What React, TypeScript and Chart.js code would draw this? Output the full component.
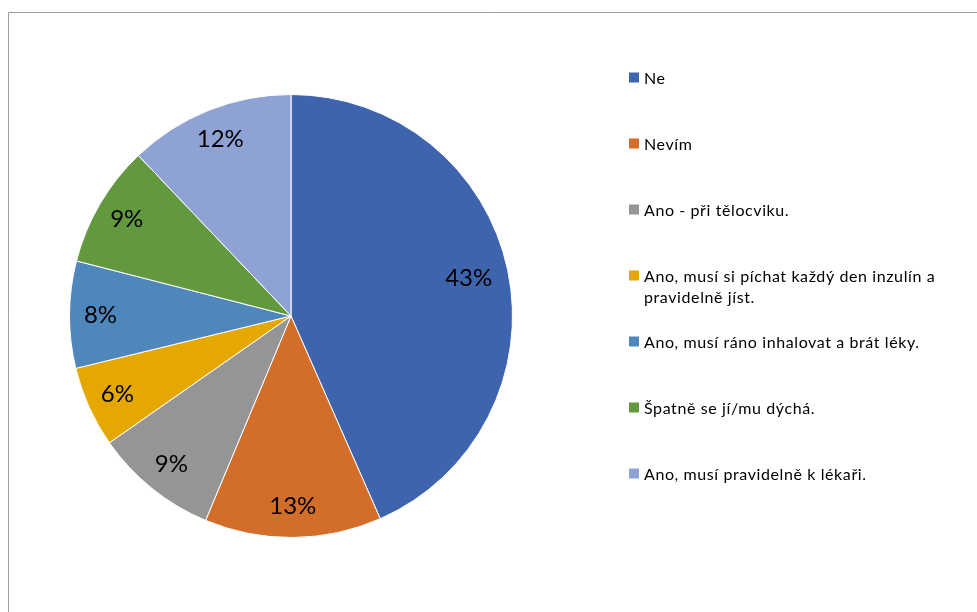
import React, { useEffect, useRef } from "react";
import { Chart, registerables } from "chart.js";

Chart.register(...registerables);

const categories = [
  "Ne",
  "Nevím",
  "Ano - při tělocviku.",
  "Ano, musí si píchat každý den inzulín a pravidelně jíst.",
  "Ano, musí ráno inhalovat a brát léky.",
  "Špatně se jí/mu dýchá.",
  "Ano, musí pravidelně k lékaři.",
];
const values = [43.4, 12.9, 9.0, 5.9, 7.8, 8.9, 12.1];
const colors = ["#3E64AE", "#D26E2A", "#959595", "#E5A800", "#4F87BC", "#62993E", "#8FA2D4"];

const FONT = "Lato, 'Open Sans', sans-serif";

const framePlugin = {
  id: "frame",
  beforeDraw(chart: any) {
    const ctx = chart.ctx;
    ctx.save();
    ctx.fillStyle = "#ffffff";
    ctx.fillRect(0, 0, chart.width, chart.height);
    ctx.strokeStyle = "#9e9e9e";
    ctx.lineWidth = 1;
    ctx.beginPath();
    ctx.moveTo(8.5, chart.height + 5);
    ctx.lineTo(8.5, 12.5);
    ctx.lineTo(chart.width + 5, 12.5);
    ctx.stroke();
    ctx.restore();
  },
};

const labelPlugin = {
  id: "pieLabels",
  afterDatasetsDraw(chart: any) {
    const ctx = chart.ctx;
    const meta = chart.getDatasetMeta(0);
    const data = chart.data.datasets[0].data as number[];
    const total = data.reduce((a, b) => a + b, 0);
    ctx.save();
    ctx.font = `24px ${FONT}`;
    ctx.fillStyle = "#000000";
    ctx.textAlign = "center";
    ctx.textBaseline = "middle";
    meta.data.forEach((arc: any, i: number) => {
      const p = arc.getProps(["x", "y", "startAngle", "endAngle", "outerRadius"], true);
      const mid = (p.startAngle + p.endAngle) / 2;
      const r = p.outerRadius * (i === 0 ? 0.82 : 0.86);
      const x = p.x + Math.cos(mid) * r;
      const y = p.y + Math.sin(mid) * r;
      ctx.fillText(Math.round((data[i] / total) * 100) + "%", x, y);
    });
    ctx.restore();
  },
};

const legendPlugin = {
  id: "customLegend",
  afterDraw(chart: any) {
    const ctx = chart.ctx;
    const startY = 77.5;
    const step = 66;
    const boxX = 629;
    const textX = 644;
    const maxW = 305;
    const lineH = 21.5;
    ctx.save();
    ctx.font = `16px ${FONT}`;
    try {
      (ctx as any).letterSpacing = "0.6px";
    } catch (e) {}
    ctx.textBaseline = "middle";
    ctx.textAlign = "left";
    categories.forEach((label, i) => {
      const y = startY + i * step;
      ctx.fillStyle = colors[i];
      ctx.fillRect(boxX, y - 5, 10, 10);
      ctx.fillStyle = "#000000";
      const words = label.split(" ");
      const lines: string[] = [];
      let cur = "";
      words.forEach((w) => {
        const t = cur ? cur + " " + w : w;
        if (ctx.measureText(t).width > maxW && cur) {
          lines.push(cur);
          cur = w;
        } else cur = t;
      });
      if (cur) lines.push(cur);
      lines.forEach((ln, k) => ctx.fillText(ln, textX, y + 1 + k * lineH));
    });
    ctx.restore();
  },
};

export default function App() {
  const ref = useRef<HTMLCanvasElement>(null);
  useEffect(() => {
    document.body.style.margin = "0";
    const chart = new Chart(ref.current!, {
      type: "pie",
      data: {
        labels: categories,
        datasets: [
          {
            data: values,
            backgroundColor: colors,
            borderColor: "#ffffff",
            borderWidth: 1,
          },
        ],
      },
      options: {
        responsive: false,
        animation: false,
        layout: { padding: { left: 69, right: 464, top: 94, bottom: 74 } },
        plugins: {
          legend: { display: false },
          tooltip: { enabled: false },
        },
      },
      plugins: [framePlugin, labelPlugin, legendPlugin],
    });
    return () => chart.destroy();
  }, []);
  return (
    <div style={{ position: "absolute", left: 0, top: 0, width: 977, height: 612 }}>
      <canvas ref={ref} width={977} height={612} />
    </div>
  );
}
